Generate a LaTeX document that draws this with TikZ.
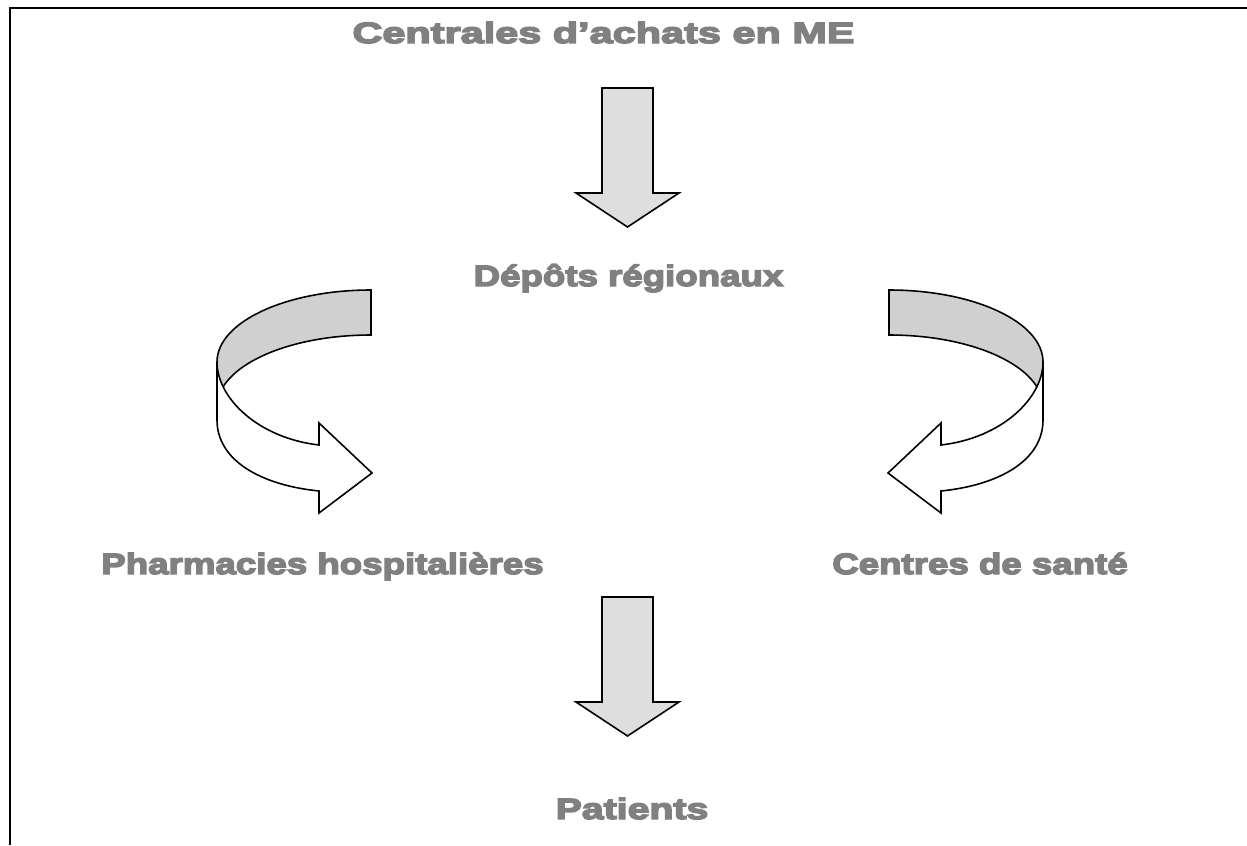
\documentclass[tikz,border=0pt]{standalone}
\usepackage{fontspec}
\setmainfont{Liberation Sans}
\newfontfamily\heavyfont{Liberation Sans}[FakeStretch=1.25, BoldFeatures={FakeBold=5}]
\definecolor{labelgray}{RGB}{128, 128, 128}
\definecolor{bandgray}{RGB}{208, 208, 208}
\definecolor{shaftgray}{RGB}{222, 222, 222}
\usetikzlibrary{positioning}

\tikzset{
  stage/.style={font=\heavyfont\bfseries\fontsize{16.7pt}{20pt}\selectfont, text=labelgray, inner sep=0pt, anchor=base},
  blockarrow/.style={draw, fill=shaftgray, line width=0.9pt, line join=miter},
  turnarrow/.pic={
    % back of the ribbon
    \draw[fill=bandgray, line width=0.9pt] (371,290) .. controls (286,290) and (217,322) .. (217,362)
      -- (217,407) .. controls (217,367) and (286,335) .. (371,335) -- cycle;
    % front of the ribbon with its head
    \draw[fill=white, line width=0.9pt, line join=miter] (217,362) .. controls (217,398) and (258,438) .. (319,445)
      -- (319,423) -- (372,473) -- (319,513) -- (319,491)
      .. controls (260,485) and (217,460) .. (217,420) -- cycle;
  }
}

\begin{document}
\begin{tikzpicture}[x=0.02cm, y=-0.02cm]
  \useasboundingbox (0,0) rectangle (1247,845);

  % frame
  \draw[line width=1.15pt] (10,845) -- (10,8) -- (1247,8);

  % stages of the chain
  \node[stage, xscale=1.13, transform shape] (centrales) at (603.5,43) {Centrales d’achats en ME};
  \node[stage] (depots) at (628.5,286) {Dépôts régionaux};
  \node[stage] (pharma) at (322.5,574) {Pharmacies hospitalières};
  \node[stage] (centres) at (980,574) {Centres de santé};
  \node[stage, xscale=1.07, transform shape] (patients) at (632,819) {Patients};

  % straight arrows
  \draw[blockarrow] (602,88) -- (653,88) -- (653,193) -- (679,193) -- (627.5,227) -- (576,193) -- (602,193) -- cycle;
  \draw[blockarrow] (602,597) -- (653,597) -- (653,702) -- (679,702) -- (627.5,736) -- (576,702) -- (602,702) -- cycle;

  % turning arrows
  \pic {turnarrow};
  \pic[xscale=-1] at (1260,0) {turnarrow};
\end{tikzpicture}
\end{document}
